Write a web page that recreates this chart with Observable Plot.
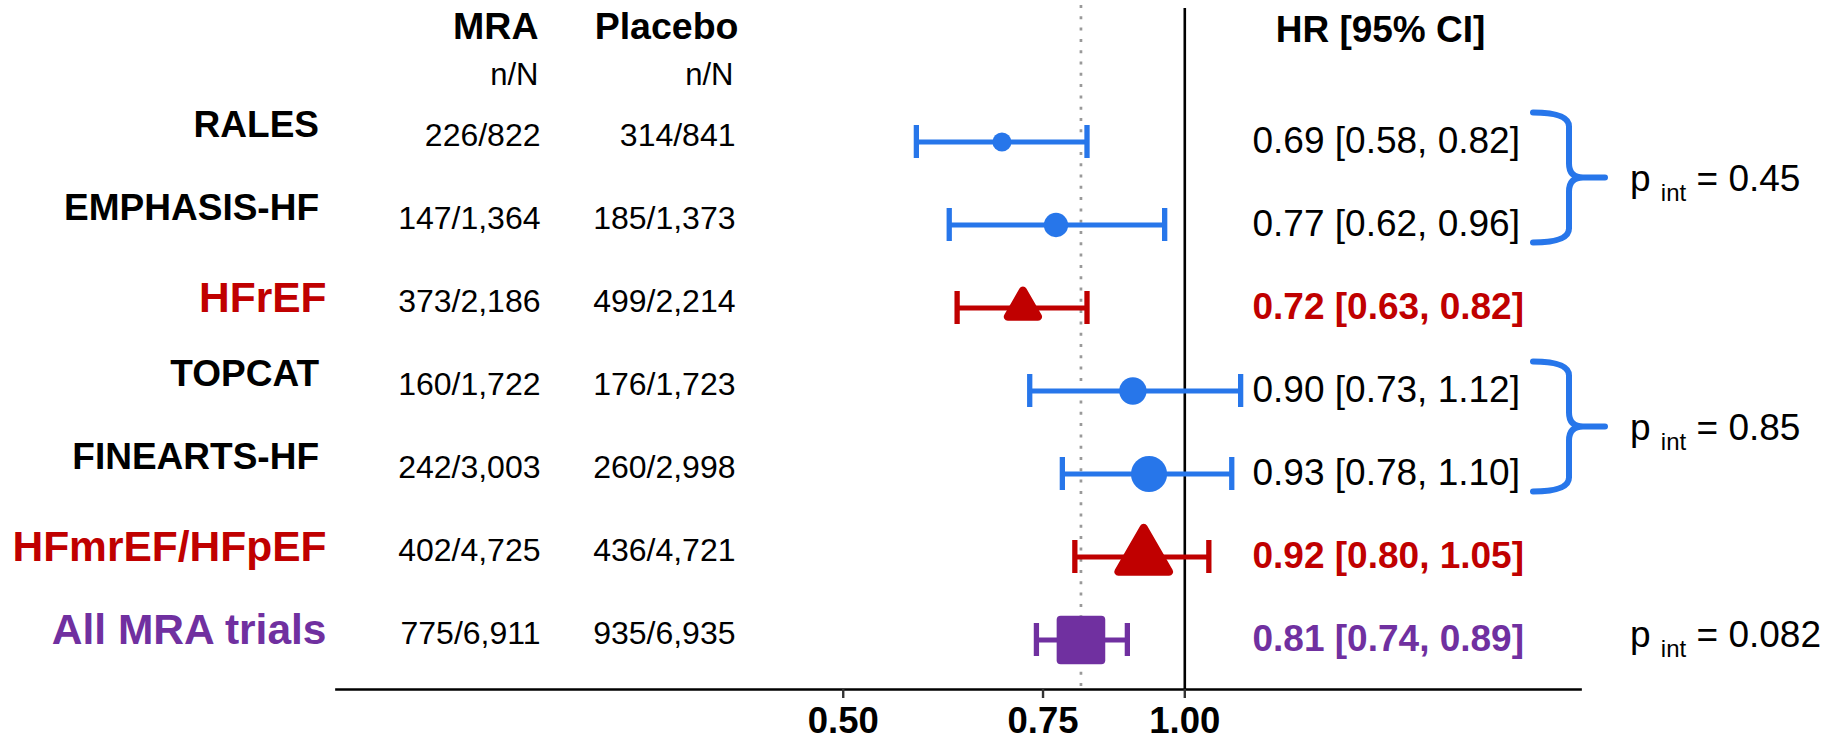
<!DOCTYPE html>
<html>
<head>
<meta charset="utf-8">
<script src="https://cdn.jsdelivr.net/npm/d3@7"></script>
<script src="https://cdn.jsdelivr.net/npm/@observablehq/plot@0.6"></script>
<style>
  html, body { margin: 0; padding: 0; background: #fff; overflow: hidden; }
</style>
</head>
<body>
<div id="chart"></div>
<script>
// ---------------- data ----------------
const rows        = ["RALES", "EMPHASIS-HF", "HFrEF", "TOPCAT", "FINEARTS-HF", "HFmrEF/HFpEF", "All MRA trials"];
const kinds       = ["trial", "trial", "pooled", "trial", "trial", "pooled", "overall"];
const mraEvents   = [226, 147, 373, 160, 242, 402, 775];
const mraN        = [822, 1364, 2186, 1722, 3003, 4725, 6911];
const placeboEvents = [314, 185, 499, 176, 260, 436, 935];
const placeboN    = [841, 1373, 2214, 1723, 2998, 4721, 6935];
const hr          = [0.69, 0.77, 0.72, 0.90, 0.93, 0.92, 0.81];
const hrLow       = [0.58, 0.62, 0.63, 0.73, 0.78, 0.80, 0.74];
const hrHigh      = [0.82, 0.96, 0.82, 1.12, 1.10, 1.05, 0.89];
const pGroups     = [["RALES", "EMPHASIS-HF"], ["TOPCAT", "FINEARTS-HF"], ["All MRA trials"]];
const pValues     = ["0.45", "0.85", "0.082"];
const xTicks      = [0.50, 0.75, 1.00];
const colHeaders  = ["MRA", "Placebo"];
const colSubHeaders = ["n/N", "n/N"];
const hrHeader    = "HR [95% CI]";

// ---------------- styles ----------------
const FONT = "'Liberation Sans', Arial, Helvetica, sans-serif";
const COLORS = {trial: "#2776EA", pooled: "#C00000", overall: "#7030A0"};
const NS = "http://www.w3.org/2000/svg";
const fmt = d3.format(",");

const table = rows.map((name, i) => ({
  name,
  kind: kinds[i],
  mra: `${fmt(mraEvents[i])}/${fmt(mraN[i])}`,
  pla: `${fmt(placeboEvents[i])}/${fmt(placeboN[i])}`,
  n: mraN[i] + placeboN[i],
  hr: hr[i], lo: hrLow[i], hi: hrHigh[i],
  ci: `${hr[i].toFixed(2)} [${hrLow[i].toFixed(2)}, ${hrHigh[i].toFixed(2)}]`
}));
const trials = table.filter(d => d.kind === "trial");
const pooled = table.filter(d => d.kind === "pooled");
const overall = table.filter(d => d.kind === "overall");
const overallHR = overall[0].hr;

// rounded symbols
function roundedPolygon(ctx, pts, rad) {
  const n = pts.length;
  ctx.moveTo((pts[n - 1][0] + pts[0][0]) / 2, (pts[n - 1][1] + pts[0][1]) / 2);
  for (let i = 0; i < n; i++) {
    const p = pts[i], q = pts[(i + 1) % n];
    ctx.arcTo(p[0], p[1], q[0], q[1], rad);
  }
  ctx.closePath();
}
const roundTriangle = {draw(ctx, size) {
  const s3 = Math.sqrt(3);
  const t = -Math.sqrt(size / (3 * s3)) * 1.06;
  roundedPolygon(ctx, [[0, 2 * t], [-s3 * t, -t], [s3 * t, -t]], 4);
}};
const roundSquare = {draw(ctx, size) {
  const h = Math.sqrt(size) / 2;
  roundedPolygon(ctx, [[-h, -h], [h, -h], [h, h], [-h, h]], 4);
}};

// braces + interaction p-values
function braces(index, scales, values, dimensions) {
  const fr = dimensions.width - dimensions.marginRight;
  const bw = scales.y.bandwidth ? scales.y.bandwidth() / 2 : 0;
  const g = document.createElementNS(NS, "g");
  pGroups.forEach((grp, j) => {
    const ys = grp.map(r => scales.y(r) + bw);
    const top = Math.min(...ys) - 29, bot = Math.max(...ys) + 18, mid = (top + bot) / 2;
    if (grp.length > 1) {
      const x0 = fr - 47, xv = fr - 11, xt = fr + 25, c = 14;
      const d = `M${x0},${top}Q${xv},${top} ${xv},${top + c}L${xv},${mid - c}Q${xv},${mid} ${xv + c},${mid}L${xt},${mid}` +
                `M${xv + c},${mid}Q${xv},${mid} ${xv},${mid + c}L${xv},${bot - c}Q${xv},${bot} ${x0},${bot}`;
      const p = document.createElementNS(NS, "path");
      p.setAttribute("d", d);
      p.setAttribute("fill", "none");
      p.setAttribute("stroke", COLORS.trial);
      p.setAttribute("stroke-width", 6);
      p.setAttribute("stroke-linecap", "round");
      p.setAttribute("stroke-linejoin", "round");
      g.appendChild(p);
    }
    const t = document.createElementNS(NS, "text");
    t.setAttribute("x", fr + 50);
    t.setAttribute("y", mid + 13);
    t.setAttribute("font-size", 37);
    t.setAttribute("fill", "black");
    t.setAttribute("text-anchor", "start");
    t.setAttribute("style", "white-space: pre");
    t.appendChild(document.createTextNode("p "));
    const s1 = document.createElementNS(NS, "tspan");
    s1.setAttribute("font-size", 24);
    s1.setAttribute("dy", 10);
    s1.textContent = "int";
    t.appendChild(s1);
    const s2 = document.createElementNS(NS, "tspan");
    s2.setAttribute("font-size", 37);
    s2.setAttribute("dy", -10);
    s2.textContent = ` = ${pValues[j]}`;
    t.appendChild(s2);
    g.appendChild(t);
  });
  return g;
}

const labelMarks = [
  Plot.text(trials, {y: "name", text: "name", frameAnchor: "left", textAnchor: "end", dx: -17.5, dy: -16.6,
    fontSize: 37, fontWeight: "bold", fill: "black"}),
  Plot.text(pooled, {y: "name", text: "name", frameAnchor: "left", textAnchor: "end", dx: -10, dy: -9.6,
    fontSize: 42.5, fontWeight: "bold", fill: COLORS.pooled}),
  Plot.text(overall, {y: "name", text: "name", frameAnchor: "left", textAnchor: "end", dx: -10, dy: -9.6,
    fontSize: 42.5, fontWeight: "bold", fill: COLORS.overall})
];

const countMarks = [
  Plot.text(table, {y: "name", text: "mra", frameAnchor: "left", textAnchor: "end", dx: 204, dy: -6, fontSize: 32, fill: "black"}),
  Plot.text(table, {y: "name", text: "pla", frameAnchor: "left", textAnchor: "end", dx: 399, dy: -6, fontSize: 32, fill: "black"})
];

const hrMarks = [
  Plot.text(trials, {y: "name", text: "ci", frameAnchor: "right", textAnchor: "start", dx: -328, dy: -1, fontSize: 37, fill: "black"}),
  Plot.text(pooled, {y: "name", text: "ci", frameAnchor: "right", textAnchor: "start", dx: -328, dy: -1, fontSize: 37, fontWeight: "bold", fill: COLORS.pooled}),
  Plot.text(overall, {y: "name", text: "ci", frameAnchor: "right", textAnchor: "start", dx: -328, dy: -1, fontSize: 37, fontWeight: "bold", fill: COLORS.overall})
];

const headerMarks = [
  Plot.text([colHeaders[0]], {frameAnchor: "top-left", lineAnchor: "middle", textAnchor: "end", dx: 202, dy: 21.3, fontSize: 37.5, fontWeight: "bold", fill: "black"}),
  Plot.text([colHeaders[1]], {frameAnchor: "top-left", lineAnchor: "middle", textAnchor: "end", dx: 402, dy: 21.3, fontSize: 37.5, fontWeight: "bold", fill: "black"}),
  Plot.text([colSubHeaders[0]], {frameAnchor: "top-left", lineAnchor: "middle", textAnchor: "end", dx: 202, dy: 70, fontSize: 31, fill: "black"}),
  Plot.text([colSubHeaders[1]], {frameAnchor: "top-left", lineAnchor: "middle", textAnchor: "end", dx: 397, dy: 70, fontSize: 31, fill: "black"}),
  Plot.text([hrHeader], {frameAnchor: "top-right", lineAnchor: "middle", textAnchor: "middle", dx: -200, dy: 25, fontSize: 37, fontWeight: "bold", fill: "black"})
];

const barMarks = [];
for (const [subset, kind] of [[trials, "trial"], [pooled, "pooled"], [overall, "overall"]]) {
  const c = COLORS[kind];
  barMarks.push(
    Plot.ruleY(subset, {y: "name", x1: "lo", x2: "hi", stroke: c, strokeWidth: 5}),
    Plot.tickX(subset, {x: "lo", y: "name", stroke: c, strokeWidth: 5.3}),
    Plot.tickX(subset, {x: "hi", y: "name", stroke: c, strokeWidth: 5.3})
  );
}

const chart = Plot.plot({
  width: 1837,
  height: 738,
  marginLeft: 336,
  marginRight: 257,
  marginTop: 5,
  marginBottom: 49,
  style: {fontFamily: FONT, background: "white", overflow: "visible"},
  x: {type: "log", domain: [0.1788, 2.2323], label: null},
  y: {type: "band", domain: rows, range: [73.17, 706.83], padding: 0.604, axis: null},
  r: {type: "sqrt", domain: [0, 10000], range: [0, 23.3]},
  marks: [
    Plot.ruleX([overallHR], {stroke: "#999", strokeWidth: 2.7, strokeDasharray: "3,8.3"}),
    Plot.ruleX([1], {stroke: "black", strokeWidth: 2.6, insetTop: 3}),
    Plot.frame({anchor: "bottom", stroke: "black", strokeWidth: 2.7}),
    Plot.axisX({ticks: xTicks, tickFormat: d3.format(".2f"), tickSize: 9, tickPadding: 9,
      fontSize: 36.5, fontWeight: "bold", stroke: "#333", strokeWidth: 2.4, fill: "black", label: null}),
    ...barMarks,
    Plot.dot(trials, {x: "hr", y: "name", r: "n", fill: COLORS.trial, symbol: "circle"}),
    Plot.dot(pooled, {x: "hr", y: "name", r: "n", fill: COLORS.pooled, symbol: roundTriangle}),
    Plot.dot(overall, {x: "hr", y: "name", r: "n", fill: COLORS.overall, symbol: roundSquare}),
    ...labelMarks,
    ...countMarks,
    ...hrMarks,
    ...headerMarks,
    braces
  ]
});
document.getElementById("chart").appendChild(chart);
</script>
</body>
</html>
